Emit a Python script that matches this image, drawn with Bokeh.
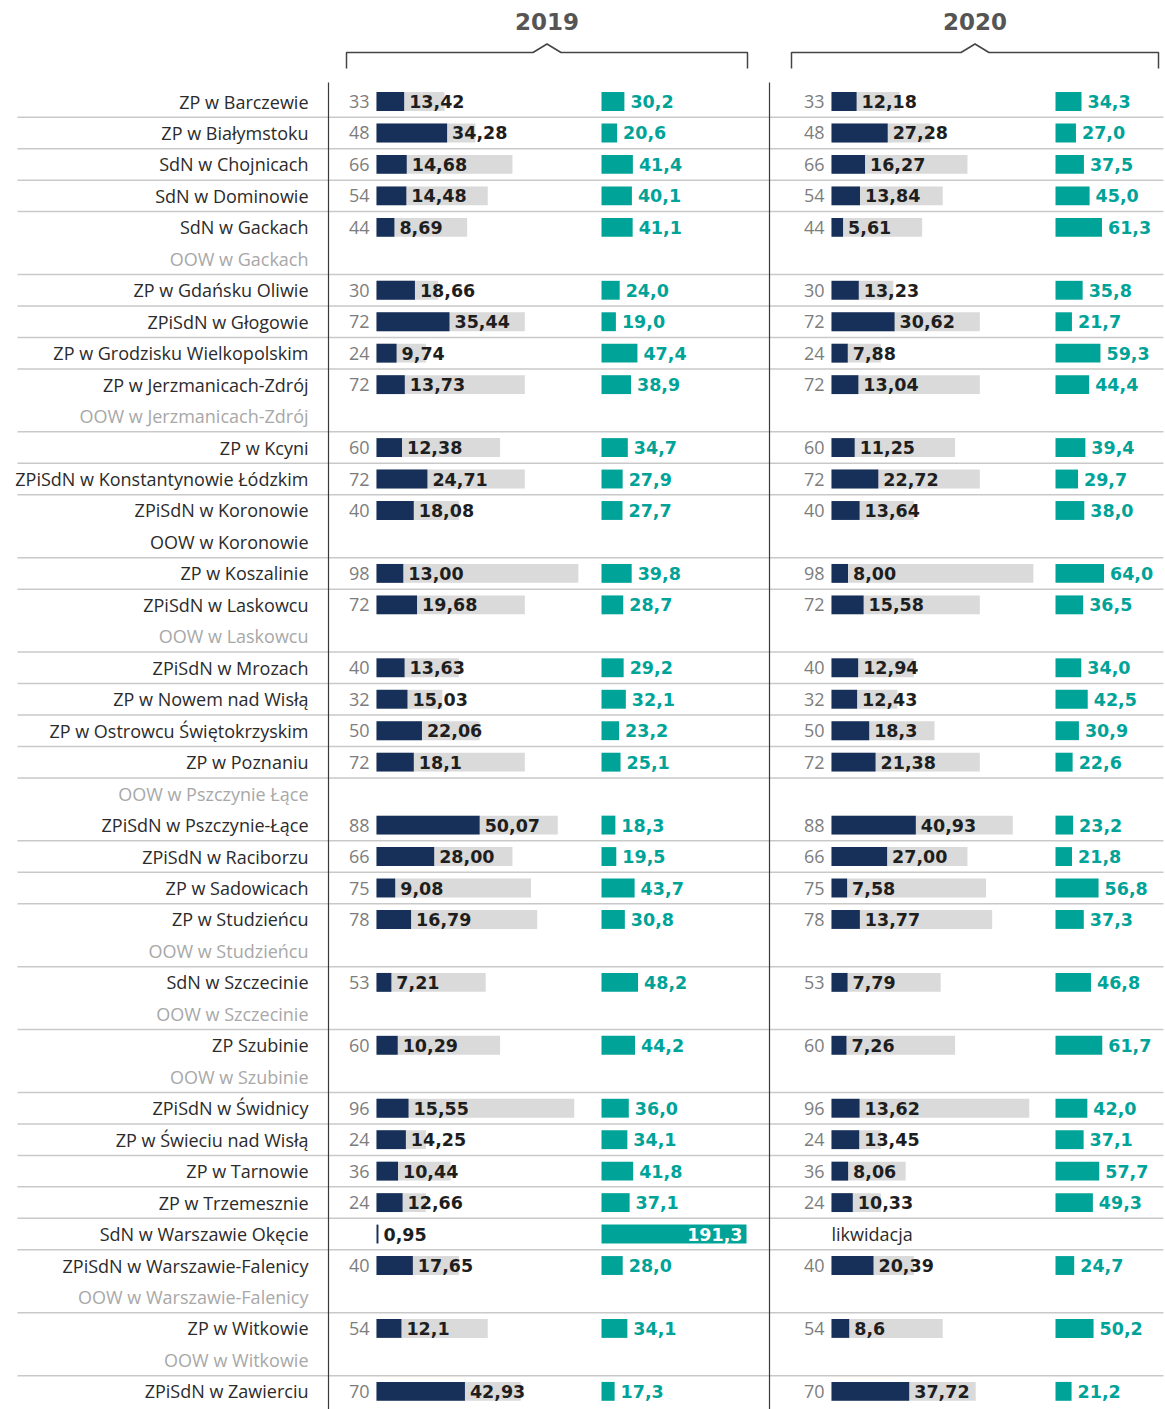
from bokeh.plotting import figure
from bokeh.models import Range1d, ColumnDataSource
from bokeh.core.properties import value
from bokeh.embed import file_html
from bokeh.resources import INLINE

# ---------------- data ----------------
names = [
    "ZP w Barczewie", "ZP w Białymstoku", "SdN w Chojnicach", "SdN w Dominowie",
    "SdN w Gackach", "OOW w Gackach", "ZP w Gdańsku Oliwie", "ZPiSdN w Głogowie",
    "ZP w Grodzisku Wielkopolskim", "ZP w Jerzmanicach-Zdrój", "OOW w Jerzmanicach-Zdrój",
    "ZP w Kcyni", "ZPiSdN w Konstantynowie Łódzkim", "ZPiSdN w Koronowie", "OOW w Koronowie",
    "ZP w Koszalinie", "ZPiSdN w Laskowcu", "OOW w Laskowcu", "ZPiSdN w Mrozach",
    "ZP w Nowem nad Wisłą", "ZP w Ostrowcu Świętokrzyskim", "ZP w Poznaniu",
    "OOW w Pszczynie Łące", "ZPiSdN w Pszczynie-Łące", "ZPiSdN w Raciborzu",
    "ZP w Sadowicach", "ZP w Studzieńcu", "OOW w Studzieńcu", "SdN w Szczecinie",
    "OOW w Szczecinie", "ZP Szubinie", "OOW w Szubinie", "ZPiSdN w Świdnicy",
    "ZP w Świeciu nad Wisłą", "ZP w Tarnowie", "ZP w Trzemesznie", "SdN w Warszawie Okęcie",
    "ZPiSdN w Warszawie-Falenicy", "OOW w Warszawie-Falenicy", "ZP w Witkowie",
    "OOW w Witkowie", "ZPiSdN w Zawierciu",
]
muted = [
    False, False, False, False, False, True, False, False, False, False, True,
    False, False, False, False, False, False, True, False, False, False, False,
    True, False, False, False, False, True, False, True, False, True, False,
    False, False, False, False, False, True, False, True, False,
]
group = [0, 1, 2, 3, 4, 4, 5, 6, 7, 8, 8, 9, 10, 11, 11, 12, 13, 13, 14, 15, 16,
         17, 18, 18, 19, 20, 21, 21, 22, 22, 23, 23, 24, 25, 26, 27, 28, 29, 29,
         30, 30, 31]

years = ["2019", "2020"]

cap_2019 = [33, 48, 66, 54, 44, None, 30, 72, 24, 72, None, 60, 72, 40, None, 98, 72,
            None, 40, 32, 50, 72, None, 88, 66, 75, 78, None, 53, None, 60, None, 96,
            24, 36, 24, None, 40, None, 54, None, 70]
val_2019 = ["13,42", "34,28", "14,68", "14,48", "8,69", None, "18,66", "35,44", "9,74",
            "13,73", None, "12,38", "24,71", "18,08", None, "13,00", "19,68", None,
            "13,63", "15,03", "22,06", "18,1", None, "50,07", "28,00", "9,08", "16,79",
            None, "7,21", None, "10,29", None, "15,55", "14,25", "10,44", "12,66",
            "0,95", "17,65", None, "12,1", None, "42,93"]
rate_2019 = [30.2, 20.6, 41.4, 40.1, 41.1, None, 24.0, 19.0, 47.4, 38.9, None, 34.7,
             27.9, 27.7, None, 39.8, 28.7, None, 29.2, 32.1, 23.2, 25.1, None, 18.3,
             19.5, 43.7, 30.8, None, 48.2, None, 44.2, None, 36.0, 34.1, 41.8, 37.1,
             191.3, 28.0, None, 34.1, None, 17.3]

cap_2020 = [33, 48, 66, 54, 44, None, 30, 72, 24, 72, None, 60, 72, 40, None, 98, 72,
            None, 40, 32, 50, 72, None, 88, 66, 75, 78, None, 53, None, 60, None, 96,
            24, 36, 24, None, 40, None, 54, None, 70]
val_2020 = ["12,18", "27,28", "16,27", "13,84", "5,61", None, "13,23", "30,62", "7,88",
            "13,04", None, "11,25", "22,72", "13,64", None, "8,00", "15,58", None,
            "12,94", "12,43", "18,3", "21,38", None, "40,93", "27,00", "7,58", "13,77",
            None, "7,79", None, "7,26", None, "13,62", "13,45", "8,06", "10,33",
            None, "20,39", None, "8,6", None, "37,72"]
rate_2020 = [34.3, 27.0, 37.5, 45.0, 61.3, None, 35.8, 21.7, 59.3, 44.4, None, 39.4,
             29.7, 38.0, None, 64.0, 36.5, None, 34.0, 42.5, 30.9, 22.6, None, 23.2,
             21.8, 56.8, 37.3, None, 46.8, None, 61.7, None, 42.0, 37.1, 57.7, 49.3,
             None, 24.7, None, 50.2, None, 21.2]
note_2020 = [None] * 36 + ["likwidacja"] + [None] * 5
note_2019 = [None] * 42

# ---------------- layout / style ----------------
W, H = 1165, 1409
ROW0, ROWH = 101.0, 31.46          # page y of first row centre, row pitch
K_DARK = 2.06                      # px per unit for capacity / population bars
K_TEAL = 0.758                     # px per unit for rate bars
BAR_H = 0.6

NAVY = "#17305a"
TEAL = "#00a398"
LIGHT = "#dadada"
SEP = "#c9c9c9"
AXIS = "#3a3a3a"
TXT = "#2b2b2b"
MUTED = "#a8a8a8"
CAPC = "#7d7d7d"
LBL_FONT = value("Open Sans")
NUM_FONT = value("DejaVu Sans")


def py(page_y):
    return (page_y - ROW0) / ROWH


p = figure(width=W, height=H, output_backend="svg", toolbar_location=None,
           x_range=Range1d(0, W), y_range=Range1d(py(H), py(0)),
           min_border=0)
p.axis.visible = False
p.grid.visible = False
p.outline_line_color = None
p.background_fill_color = "white"

n = len(names)
rows = list(range(n))

# separators between groups
sep_y = [i + 0.5 for i in range(n - 1) if group[i] != group[i + 1]]
p.segment(x0=[17] * len(sep_y), x1=[1163] * len(sep_y), y0=sep_y, y1=sep_y,
          line_color=SEP, line_width=1.5)

# vertical dividers
for vx in (328, 769):
    p.segment(x0=[vx], x1=[vx], y0=[py(82)], y1=[py(H + 10)],
              line_color=AXIS, line_width=1.2)

# row labels
p.text(x=[308] * n, y=rows, text=names,
       text_color=[MUTED if m else TXT for m in muted],
       text_font=LBL_FONT, text_font_size="18px",
       text_align="right", text_baseline="middle")

panels = [
    dict(year=years[0], cap=cap_2019, val=val_2019, rate=rate_2019, note=note_2019,
         x0=376, rx0=601, br=(346, 747)),
    dict(year=years[1], cap=cap_2020, val=val_2020, rate=rate_2020, note=note_2020,
         x0=831, rx0=1055, br=(791, 1158)),
]

for pn in panels:
    x0, rx0 = pn["x0"], pn["rx0"]
    # header
    bl, br = pn["br"]
    cx = (bl + br) / 2
    p.line(x=[bl, bl, cx - 14, cx, cx + 14, br, br],
           y=[py(68), py(52), py(52), py(43.5), py(52), py(52), py(68)],
           line_color="#444444", line_width=1.5)
    p.text(x=[cx], y=[py(21)], text=[pn["year"]], text_font=NUM_FONT,
           text_font_style="bold", text_font_size="23px", text_color="#555555",
           text_align="center", text_baseline="middle")

    # capacity bars
    ci = [i for i in rows if pn["cap"][i] is not None]
    caps = [pn["cap"][i] for i in ci]
    p.hbar(y=ci, left=[x0] * len(ci), right=[x0 + c * K_DARK for c in caps],
           height=BAR_H, fill_color=LIGHT, line_color=None)
    p.text(x=[x0 - 7] * len(ci), y=ci, text=[str(c) for c in caps],
           text_font=LBL_FONT, text_font_size="18px", text_color=CAPC,
           text_align="right", text_baseline="middle")

    # population bars
    vi = [i for i in rows if pn["val"][i] is not None]
    vals = [float(pn["val"][i].replace(",", ".")) for i in vi]
    ends = [x0 + v * K_DARK for v in vals]
    p.hbar(y=vi, left=[x0] * len(vi), right=ends, height=BAR_H,
           fill_color=NAVY, line_color=None)
    p.text(x=[e + 5 for e in ends], y=vi, text=[pn["val"][i] for i in vi],
           text_font=NUM_FONT, text_font_style="bold", text_font_size="17.5px",
           text_color="#1e1e1e", text_align="left", text_baseline="middle")

    # rate bars
    ri = [i for i in rows if pn["rate"][i] is not None]
    rates = [pn["rate"][i] for i in ri]
    rends = [rx0 + r * K_TEAL for r in rates]
    p.hbar(y=ri, left=[rx0] * len(ri), right=rends, height=BAR_H,
           fill_color=TEAL, line_color=None)
    inside = [r * K_TEAL > 110 for r in rates]
    labels = [f"{r:.1f}".replace(".", ",") for r in rates]
    src = ColumnDataSource(dict(
        x=[e - 4 if ins else e + 6 for e, ins in zip(rends, inside)],
        y=ri, t=labels,
        c=["white" if ins else TEAL for ins in inside],
        a=["right" if ins else "left" for ins in inside],
    ))
    p.text(x="x", y="y", text="t", text_color="c", text_align="a", source=src,
           text_font=NUM_FONT, text_font_style="bold", text_font_size="17.5px",
           text_baseline="middle")

    # notes
    ni = [i for i in rows if pn["note"][i] is not None]
    if ni:
        p.text(x=[x0] * len(ni), y=ni, text=[pn["note"][i] for i in ni],
               text_font=LBL_FONT, text_font_size="18px", text_color=TXT,
               text_align="left", text_baseline="middle")

open("out.html", "w").write(file_html(p, INLINE))
